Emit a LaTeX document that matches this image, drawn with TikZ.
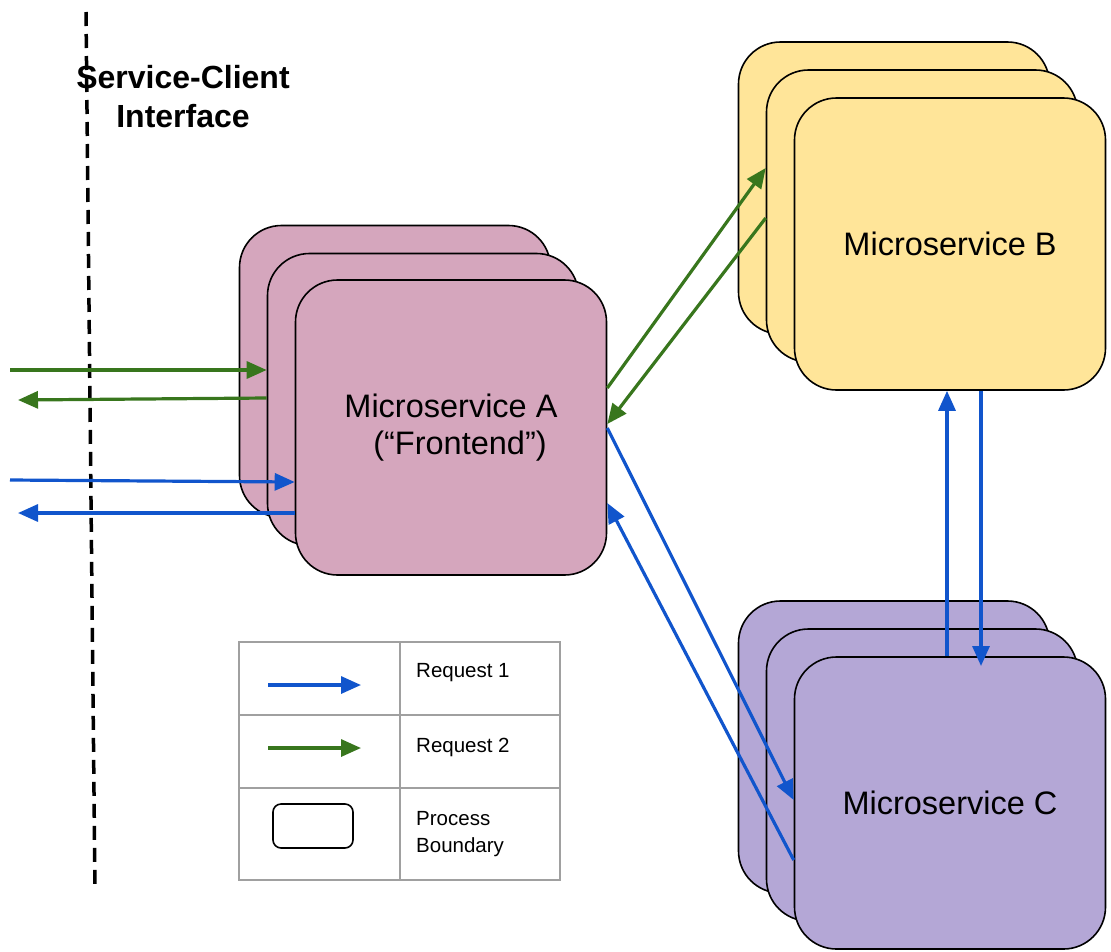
\documentclass[tikz,border=0pt]{standalone}
\usepackage{fontspec}
\setmainfont{Liberation Sans}
\usetikzlibrary{arrows.meta}
\definecolor{pinkA}{HTML}{D5A6BD}
\definecolor{yellowB}{HTML}{FFE599}
\definecolor{purpleC}{HTML}{B4A7D6}
\definecolor{reqgreen}{HTML}{38761D}
\definecolor{reqblue}{HTML}{1155CC}
\definecolor{tablegrey}{HTML}{A0A0A0}
\tikzset{
  procbox/.style={draw=black, line width=1.6pt, rounded corners=42pt, minimum width=311pt,
    minimum height=292pt, inner sep=0pt, align=center, font=\fontsize{32.5}{37}\selectfont},
  reqone/.style={draw=reqblue, line width=3.2pt, -{Triangle[length=20pt,width=17pt]}},
  reqtwo/.style={draw=reqgreen, line width=3.2pt, -{Triangle[length=20pt,width=17pt]}},
  legendtxt/.style={anchor=west, inner sep=0pt, align=left, font=\fontsize{20.5}{27}\selectfont}
}
\begin{document}
\begin{tikzpicture}[x=1pt, y=-1pt]
        \useasboundingbox (0,0) rectangle (1111,951);
        % process stacks
        \foreach \d/\nm in {56/back, 28/mid}{
          \node[procbox, fill=pinkA] (\nm A) at (451-\d, 427.5-\d) {};
          \node[procbox, fill=yellowB] (\nm B) at (950-\d, 244-\d) {};
          \node[procbox, fill=purpleC] (\nm C) at (950-\d, 803-\d) {};
        }
        \node[procbox, fill=pinkA, minimum height=295pt] (frontA) at (451, 427.5) {Microservice A\\ \ \ (“Frontend”)};
        \node[procbox, fill=yellowB] (frontB) at (950, 244) {Microservice B};
        \node[procbox, fill=purpleC] (frontC) at (950, 803) {Microservice C};
        % client side
        \node[font=\bfseries\fontsize{32}{39}\selectfont, align=center] (iface) at (183, 97) {Service-Client\\Interface};
        \draw[line width=3.5pt, dash pattern=on 14pt off 8pt] (86,12) -- (95,890);
        \coordinate (inTwo) at (10,370);
        \coordinate (outTwo) at (18,400);
        \coordinate (inOne) at (10,480);
        \coordinate (outOne) at (18,513);
        \draw[reqtwo] (inTwo) -- (inTwo -| midA.west);
        \draw[reqtwo] (midA.west |- 0,398) -- (outTwo);
        \draw[reqone] (inOne) -- (frontA.west |- 0,482);
        \draw[reqone] (frontA.west |- outOne) -- (outOne);
        % A <-> B
        \draw[reqtwo] (frontA.east |- 0,388) -- (midB.west |- 0,168);
        \draw[reqtwo] (midB.west |- 0,218) -- (frontA.east |- 0,424);
        % A <-> C
        \draw[reqone] (frontA.east |- 0,428) -- (frontC.west |- 0,800);
        \draw[reqone] (frontC.west |- 0,860) -- (frontA.east |- 0,503);
        % C <-> B
        \draw[reqone] (frontC.north -| 947,0) -- (frontB.south -| 947,0);
        \draw[reqone] (frontB.south -| 981,0) -- (981,666);
        % legend
        \draw[tablegrey, line width=1.5pt] (239,642) rectangle (560,880);
        \draw[tablegrey, line width=1.5pt] (400,642) -- (400,880);
        \foreach \y in {715, 788}{
          \draw[tablegrey, line width=1.5pt] (239,\y) -- (560,\y);
        }
        \coordinate (keyOneA) at (268,685);
        \coordinate (keyOneB) at (361,685);
        \coordinate (keyTwoA) at (268,748);
        \coordinate (keyTwoB) at (361,748);
        \draw[reqone] (keyOneA) -- (keyOneB);
        \draw[reqtwo] (keyTwoA) -- (keyTwoB);
        \node[draw=black, line width=1.6pt, rounded corners=8pt, minimum width=80pt, minimum height=44pt] (keyBox) at (313,826) {};
        \node[legendtxt] (keyOne) at (416,673) {Request 1};
        \node[legendtxt] (keyTwo) at (416,747) {Request 2};
        \node[legendtxt] (keyProc) at (416,834) {Process\\Boundary};
      \end{tikzpicture}
\end{document}
